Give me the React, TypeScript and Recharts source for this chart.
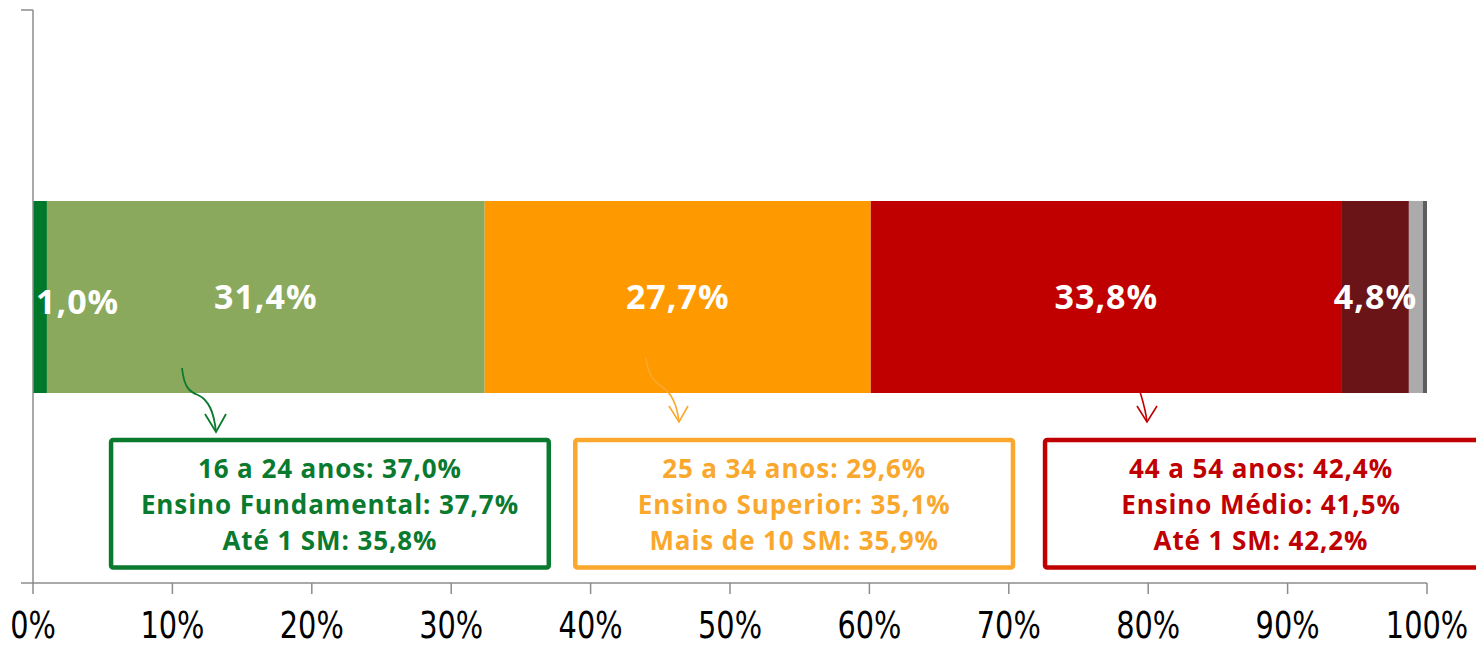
import React from "react";
import { BarChart, Bar, XAxis, YAxis, LabelList } from "recharts";

document.body.style.margin = "0";

// segment values (%), left to right
const segmentKeys = ["a", "b", "c", "d", "e", "f", "g"];
const segmentValues = [1.0, 31.4, 27.7, 33.8, 4.8, 1.0, 0.3];
const segmentColors = ["#00782A", "#8AA95C", "#FF9900", "#C00000", "#6B1418", "#ABABAB", "#5E5E5E"];
const labeledSegments = [true, true, true, true, true, false, false];
const xTicks = [0, 10, 20, 30, 40, 50, 60, 70, 80, 90, 100];

// callout boxes
const calloutLines = [
  ["16 a 24 anos: 37,0%", "Ensino Fundamental: 37,7%", "Até 1 SM: 35,8%"],
  ["25 a 34 anos: 29,6%", "Ensino Superior: 35,1%", "Mais de 10 SM: 35,9%"],
  ["44 a 54 anos: 42,4%", "Ensino Médio: 41,5%", "Até 1 SM: 42,2%"],
];
const calloutColors = ["#0A7A2F", "#F9A82D", "#C00000"];
const calloutRange = [
  [5.6, 37.0],
  [38.9, 70.3],
  [72.6, 104],
];

const W = 1476;
const H = 647;
const M = { top: 10, right: 49, left: 33, bottom: 0 };
const plotW = W - M.left - M.right;
const px = (p: number) => M.left + (p / 100) * plotW;
const AXIS = "#8C8C8C";

const row: Record<string, string | number> = { name: "" };
segmentKeys.forEach((k, i) => (row[k] = segmentValues[i]));
const data = [row];

const fmt = (v: number) => v.toFixed(1).replace(".", ",") + "%";

const labelFont = "'Open Sans', 'Noto Sans', sans-serif";

function makeLabel(first: boolean) {
  return (props: any) => {
    const { x, y, width, height, value } = props;
    const cx = first ? x + 3 : x + width / 2;
    const cy = y + height / 2 + (first ? 17 : 12);
    return (
      <text
        x={cx}
        y={cy}
        textAnchor={first ? "start" : "middle"}
        fill="#fff"
        fontFamily={labelFont}
        fontWeight={700}
        fontSize={34}
        letterSpacing={1}
      >
        {fmt(Number(value))}
      </text>
    );
  };
}

function XTick(props: any) {
  const { x, y, payload } = props;
  return (
    <text
      transform={`translate(${x},${y + 30}) scale(0.8,1.04)`}
      textAnchor="middle"
      fill="#000"
      fontFamily="'DejaVu Sans', sans-serif"
      fontSize={36}
    >
      {payload.value + "%"}
    </text>
  );
}

function Overlay() {
  const boxTop = 440;
  const boxBottom = 567.5;
  return (
    <svg width={W} height={H} style={{ position: "absolute", left: 0, top: 0, pointerEvents: "none" }}>
      {/* category axis line and boundary ticks */}
      <line x1={M.left} y1={10} x2={M.left} y2={584} stroke={AXIS} strokeWidth={1.5} />
      <line x1={21} y1={10} x2={M.left} y2={10} stroke={AXIS} strokeWidth={1.5} />
      <line x1={21} y1={583} x2={M.left} y2={583} stroke={AXIS} strokeWidth={1.5} />

      {/* arrows */}
      <path d="M182,368 C184,388 190,392 198,395 C209,400 214,412 216,432" fill="none" stroke={calloutColors[0]} strokeWidth={1.8} />
      <path d="M205,414 L216,432 L226,414" fill="none" stroke={calloutColors[0]} strokeWidth={1.8} />
      <path d="M646,358 C648,375 654,382 661,386 C671,392 677,404 679,422" fill="none" stroke={calloutColors[1]} strokeWidth={1.6} />
      <path d="M669,406 L679,422 L688,406" fill="none" stroke={calloutColors[1]} strokeWidth={1.6} />
      <path d="M1130,365 C1134,378 1138,385 1141,395 C1144,405 1146,413 1147,422" fill="none" stroke={calloutColors[2]} strokeWidth={1.6} />
      <path d="M1137,406 L1147,422 L1157,406" fill="none" stroke={calloutColors[2]} strokeWidth={1.6} />

      {calloutLines.map((lines, i) => {
        const x1 = px(calloutRange[i][0]);
        const x2 = px(calloutRange[i][1]);
        const cx = i === 2 ? 1261 : (x1 + x2) / 2;
        return (
          <g key={i}>
            <rect
              x={x1}
              y={boxTop}
              width={x2 - x1}
              height={boxBottom - boxTop}
              rx={2}
              fill="#fff"
              stroke={calloutColors[i]}
              strokeWidth={4.5}
            />
            {lines.map((t, j) => (
              <text
                key={j}
                x={cx}
                y={478 + j * 36}
                textAnchor="middle"
                fill={calloutColors[i]}
                fontFamily={labelFont}
                fontWeight={700}
                fontSize={26}
                letterSpacing={0.9}
              >
                {t}
              </text>
            ))}
          </g>
        );
      })}
    </svg>
  );
}

export default function App() {
  return (
    <div style={{ position: "relative", width: W, height: H, background: "#fff" }}>
      <BarChart width={W} height={H} data={data} layout="vertical" margin={M} barCategoryGap={0}>
        <XAxis
          type="number"
          domain={[0, 100]}
          ticks={xTicks}
          interval={0}
          height={64}
          stroke={AXIS}
          axisLine={{ stroke: AXIS, strokeWidth: 1.5 }}
          tickLine={{ stroke: AXIS, strokeWidth: 1.5 }}
          tickSize={11}
          tickMargin={14}
          tick={<XTick />}
        />
        <YAxis type="category" dataKey="name" width={0} tick={false} tickLine={false} axisLine={false} />
        {segmentKeys.map((k, i) => (
          <Bar key={k} dataKey={k} stackId="s" fill={segmentColors[i]} barSize={192} isAnimationActive={false}>
            {labeledSegments[i] && <LabelList dataKey={k} content={makeLabel(i === 0)} />}
          </Bar>
        ))}
      </BarChart>
      <Overlay />
    </div>
  );
}
